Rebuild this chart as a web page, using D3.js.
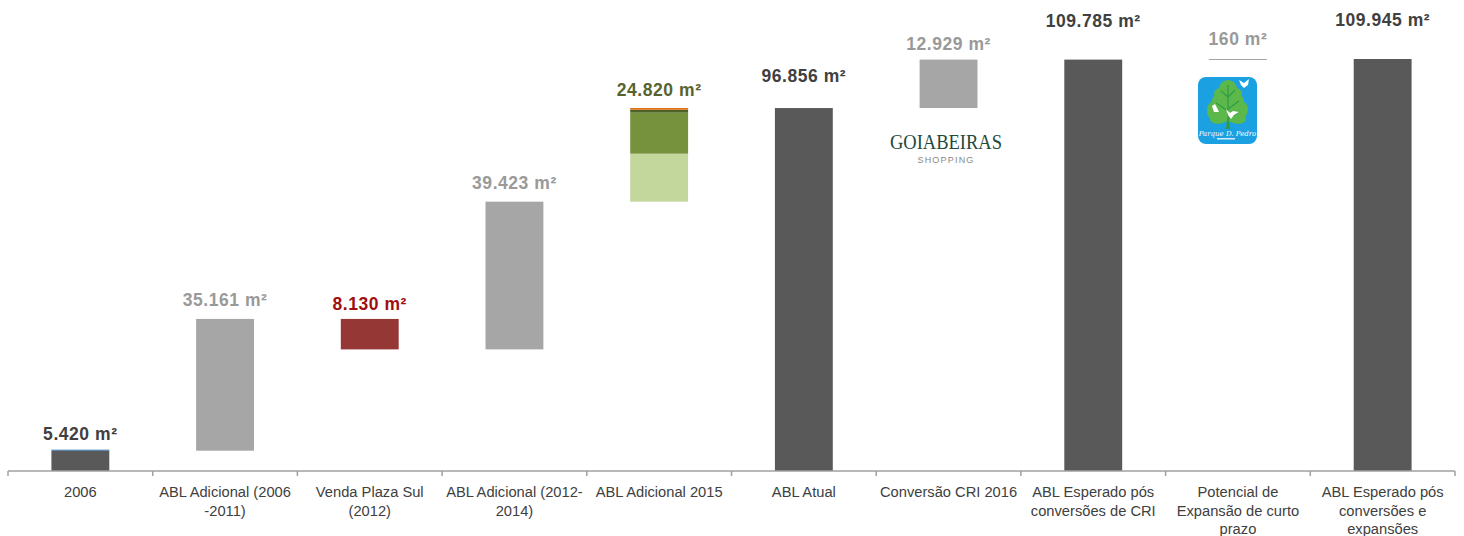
<!DOCTYPE html>
<html>
<head>
  <meta charset="utf-8">
  <title>ABL Waterfall</title>
  <script src="https://d3js.org/d3.v7.min.js"></script>
  <style>
    body { margin: 0; padding: 0; background: white; overflow: hidden; }
    svg { display: block; font-family: 'Liberation Sans', Arial, sans-serif; }
  </style>
</head>
<body>
  <svg id="canvas" width="1464" height="536"></svg>

  <script>
    const categories = [
      "2006", "ABL Adicional (2006\n-2011)", "Venda Plaza Sul\n(2012)", "ABL Adicional (2012-\n2014)",
      "ABL Adicional 2015", "ABL Atual", "Conversão CRI 2016", "ABL Esperado pós\nconversões de CRI",
      "Potencial de\nExpansão de curto\nprazo", "ABL Esperado pós\nconversões e\nexpansões"
    ];
    const valueLabels = ["5.420 m²", "35.161 m²", "8.130 m²", "39.423 m²", "24.820 m²", "96.856 m²", "12.929 m²", "109.785 m²", "160 m²", "109.945 m²"];
    const barStart = [0, 5420, 32451, 32451, 71874, 0, 96856, 0, 109785, 0];
    const barEnd = [5420, 40581, 40581, 71874, 96856, 96856, 109785, 109785, 109945, 109945];
    const barKinds = ["total", "step", "loss", "step", "split", "total", "step", "total", "step", "total"];
    const splitValues = [12800, 10950, 800, 432];
    const splitColors = ["#c3d69b", "#76923c", "#4f6228", "#e36c0a"];
    const kindColors = { total: "#595959", step: "#a6a6a6", loss: "#953735", split: "#76923c" };
    const labelColors = { total: "#404040", step: "#999999", loss: "#a00f0f", split: "#56632f" };
    const labelLift = [11, 13, 9, 13, 12, 26, 10, 33, 14, 33];

    const svg = d3.select("#canvas");
    const axisY = 471;

    const x = d3.scaleBand().domain(d3.range(categories.length)).range([8, 1455]).paddingInner(0.6).paddingOuter(0.3);
    const y = d3.scaleLinear().domain([0, 109945]).range([axisY, 59]);
    const step = x.step();

    const g = svg.append("g");

    // plain bars
    g.selectAll("rect.bar")
      .data(d3.range(categories.length).filter(i => barKinds[i] !== "split"))
      .join("rect")
      .attr("class", "bar")
      .attr("x", i => x(i))
      .attr("y", i => y(barEnd[i]))
      .attr("width", x.bandwidth())
      .attr("height", i => Math.max(1, y(barStart[i]) - y(barEnd[i])))
      .attr("fill", i => kindColors[barKinds[i]]);

    // blue cap on top of the 2006 bar
    g.append("rect")
      .attr("x", x(0)).attr("y", y(barEnd[0]) - 1)
      .attr("width", x.bandwidth()).attr("height", 1)
      .attr("fill", "#2e6da4");

    // the 2015 bar is stacked
    let running = barStart[4];
    splitValues.forEach((v, k) => {
      g.append("rect")
        .attr("x", x(4))
        .attr("y", y(running + v))
        .attr("width", x.bandwidth())
        .attr("height", y(running) - y(running + v))
        .attr("fill", splitColors[k]);
      running += v;
    });

    // value labels
    g.selectAll("text.value")
      .data(valueLabels)
      .join("text")
      .attr("class", "value")
      .attr("x", (d, i) => x(i) + x.bandwidth() / 2)
      .attr("y", (d, i) => y(barEnd[i]) - labelLift[i])
      .attr("text-anchor", "middle")
      .attr("font-size", 17.5)
      .attr("letter-spacing", 0.55)
      .attr("font-weight", "bold")
      .attr("fill", (d, i) => labelColors[barKinds[i]])
      .text(d => d);

    // axis line and ticks
    const axisG = svg.append("g").attr("stroke", "#a0a0a0").attr("stroke-width", 1.5);
    axisG.append("line").attr("x1", 8).attr("x2", 1455).attr("y1", axisY).attr("y2", axisY);
    axisG.selectAll("line.tick")
      .data(d3.range(categories.length + 1))
      .join("line")
      .attr("class", "tick")
      .attr("x1", i => 8 + i * step)
      .attr("x2", i => 8 + i * step)
      .attr("y1", axisY)
      .attr("y2", axisY + 5);

    // category labels
    const catText = svg.selectAll("text.cat")
      .data(categories)
      .join("text")
      .attr("class", "cat")
      .attr("text-anchor", "middle")
      .attr("font-size", 14.7)
      .attr("fill", "#404040");
    catText.selectAll("tspan")
      .data((d, i) => d.split("\n").map(line => ({ line, i })))
      .join("tspan")
      .attr("x", d => x(d.i) + x.bandwidth() / 2)
      .attr("y", (d, k) => 497 + k * 18.5)
      .text(d => d.line);

    // Goiabeiras logo
    const goia = svg.append("g").attr("text-anchor", "middle");
    goia.append("text")
      .attr("x", 946).attr("y", 149)
      .attr("font-family", "'Liberation Serif', serif")
      .attr("font-size", 20)
      .attr("textLength", 112)
      .attr("lengthAdjust", "spacingAndGlyphs")
      .attr("fill", "#1f4a3c")
      .text("GOIABEIRAS");
    goia.append("text")
      .attr("x", 946).attr("y", 163)
      .attr("font-size", 9)
      .attr("letter-spacing", 1.2)
      .attr("fill", "#8a8a8a")
      .text("SHOPPING");

    // Parque D. Pedro logo
    const logo = svg.append("g").attr("transform", "translate(1198,77)");
    logo.append("rect").attr("width", 59).attr("height", 67).attr("rx", 8).attr("fill", "#1ba0e2");
    const crown = logo.append("g").attr("fill", "#5cb84a");
    [[30, 12, 9, 9], [22, 17, 6, 6], [38, 17, 6, 6], [30, 24, 16, 10], [18, 32, 9, 8], [42, 32, 8, 8], [29, 36, 20, 9], [20, 42, 8, 5], [40, 42, 8, 5]]
      .forEach(e => crown.append("ellipse")
        .attr("cx", e[0]).attr("cy", e[1]).attr("rx", e[2]).attr("ry", e[3]));
    logo.append("path")
      .attr("d", "M30,46 L30,8 M30,20 L37,13 M30,20 L23,14 M30,32 L41,24 M30,34 L18,26 M30,42 L41,35")
      .attr("fill", "none").attr("stroke", "#2e9c46").attr("stroke-width", 1.2);
    logo.append("path").attr("d", "M28,52 L32,52 L31,42 L29,42 Z").attr("fill", "#2e9c46");
    // birds
    logo.append("path").attr("d", "M41,3 L46,6 L51,2 L50,8 L46,11 L43,8 Z").attr("fill", "#fff");
    logo.append("path").attr("d", "M14,29 L17,27 L19,31 L21,35 L16,35 Z").attr("fill", "#fff");
    logo.append("path").attr("d", "M28,32 L32,36 L35,34 L41,35 L36,38 L33,42 L30,38 Z").attr("fill", "#fff");
    logo.append("text")
      .attr("x", 29.5).attr("y", 59)
      .attr("text-anchor", "middle")
      .attr("font-family", "'DejaVu Serif', serif")
      .attr("font-style", "italic")
      .attr("font-size", 7)
      .attr("fill", "#fff")
      .text("Parque D. Pedro");
    logo.append("rect").attr("x", 19).attr("y", 61).attr("width", 18).attr("height", 1.5).attr("fill", "#d5eefa");
  </script>
</body>
</html>
